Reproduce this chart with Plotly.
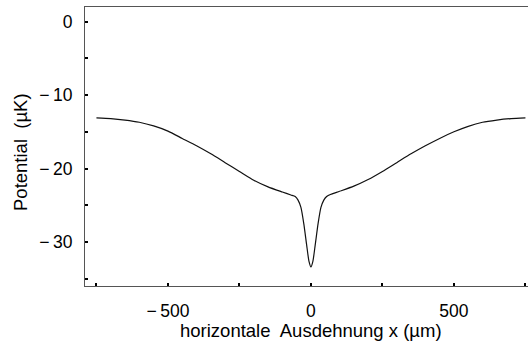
import plotly.graph_objects as go

# Potential profile along the horizontal direction
x_um = [-750, -700, -650, -600, -550, -500, -450, -400, -350, -300, -250, -200,
        -150, -100, -70, -55, -45, -35, -25, -15, -7, 0,
        7, 15, 25, 35, 45, 55, 70, 100, 150, 200, 250, 300, 350, 400, 450,
        500, 550, 600, 650, 700, 750]
potential_uK = [-13.1, -13.2, -13.4, -13.7, -14.2, -14.9, -15.9, -16.9, -18.0, -19.2, -20.4, -21.6,
                -22.5, -23.2, -23.6, -23.8, -24.3, -25.3, -27.5, -30.4, -32.6, -33.4,
                -32.6, -30.4, -27.5, -25.3, -24.3, -23.8, -23.5, -23.1, -22.4, -21.5, -20.4, -19.2, -18.0, -16.9, -15.9,
                -15.0, -14.25, -13.7, -13.4, -13.2, -13.1]

x_ticks = [-500, 0, 500]
x_tick_text = ["\u2212\u2009500", "0", "500"]
x_minor = [-750, -250, 250, 750]
y_ticks = [0, -10, -20, -30]
y_tick_text = ["0", "\u2212\u200910", "\u2212\u200920", "\u2212\u200930"]
y_minor = [-5, -15, -25, -35]

FONT = "Liberation Sans, Arial, sans-serif"
TICK_FS = 17.5
TITLE_FS = 18.5

fig = go.Figure(go.Scatter(
    x=x_um, y=potential_uK, mode="lines",
    line=dict(color="#111111", width=1.2, shape="spline", smoothing=0.6),
    hoverinfo="skip",
))

axis_common = dict(
    showgrid=False, zeroline=False, showline=True, linecolor="#555555", linewidth=1,
    ticks="inside", ticklen=3, tickwidth=1.5, tickcolor="#000000",
    tickfont=dict(family=FONT, size=TICK_FS, color="#000000"),
)

fig.update_layout(
    width=528, height=342,
    margin=dict(l=85, r=0, t=7, b=56),
    paper_bgcolor="white", plot_bgcolor="white",
    showlegend=False,
    xaxis=dict(
        range=[-790, 759], tickmode="array", tickvals=x_ticks, ticktext=x_tick_text,
        mirror=True, ticklabelstandoff=9,
        minor=dict(tickmode="array", tickvals=x_minor, ticks="inside", ticklen=3,
                   tickwidth=1.5, tickcolor="#000000", showgrid=False),
        **axis_common,
    ),
    yaxis=dict(
        range=[-36, 2], tickmode="array", tickvals=y_ticks, ticktext=y_tick_text,
        ticklabelstandoff=8,
        minor=dict(tickmode="array", tickvals=y_minor, ticks="inside", ticklen=3,
                   tickwidth=1.5, tickcolor="#000000", showgrid=False),
        **axis_common,
    ),
)

# axis titles placed in pixel terms relative to the plot area
plot_h = 342 - 7 - 56
plot_w = 528 - 85
fig.add_annotation(
    text="horizontale  Ausdehnung x (\u00b5m)", x=0, xref="x",
    y=-(330 - (342 - 56)) / plot_h, yref="paper", xanchor="center", yanchor="middle",
    showarrow=False, font=dict(family=FONT, size=TITLE_FS, color="#000000"),
)
fig.add_annotation(
    text="Potential  (\u00b5K)", x=-(85 - 20) / plot_w, xref="paper",
    y=1 - (152 - 7) / plot_h, yref="paper", textangle=-90, showarrow=False,
    xanchor="center", yanchor="middle", font=dict(family=FONT, size=TITLE_FS, color="#000000"),
)

fig.write_html("out.html")
